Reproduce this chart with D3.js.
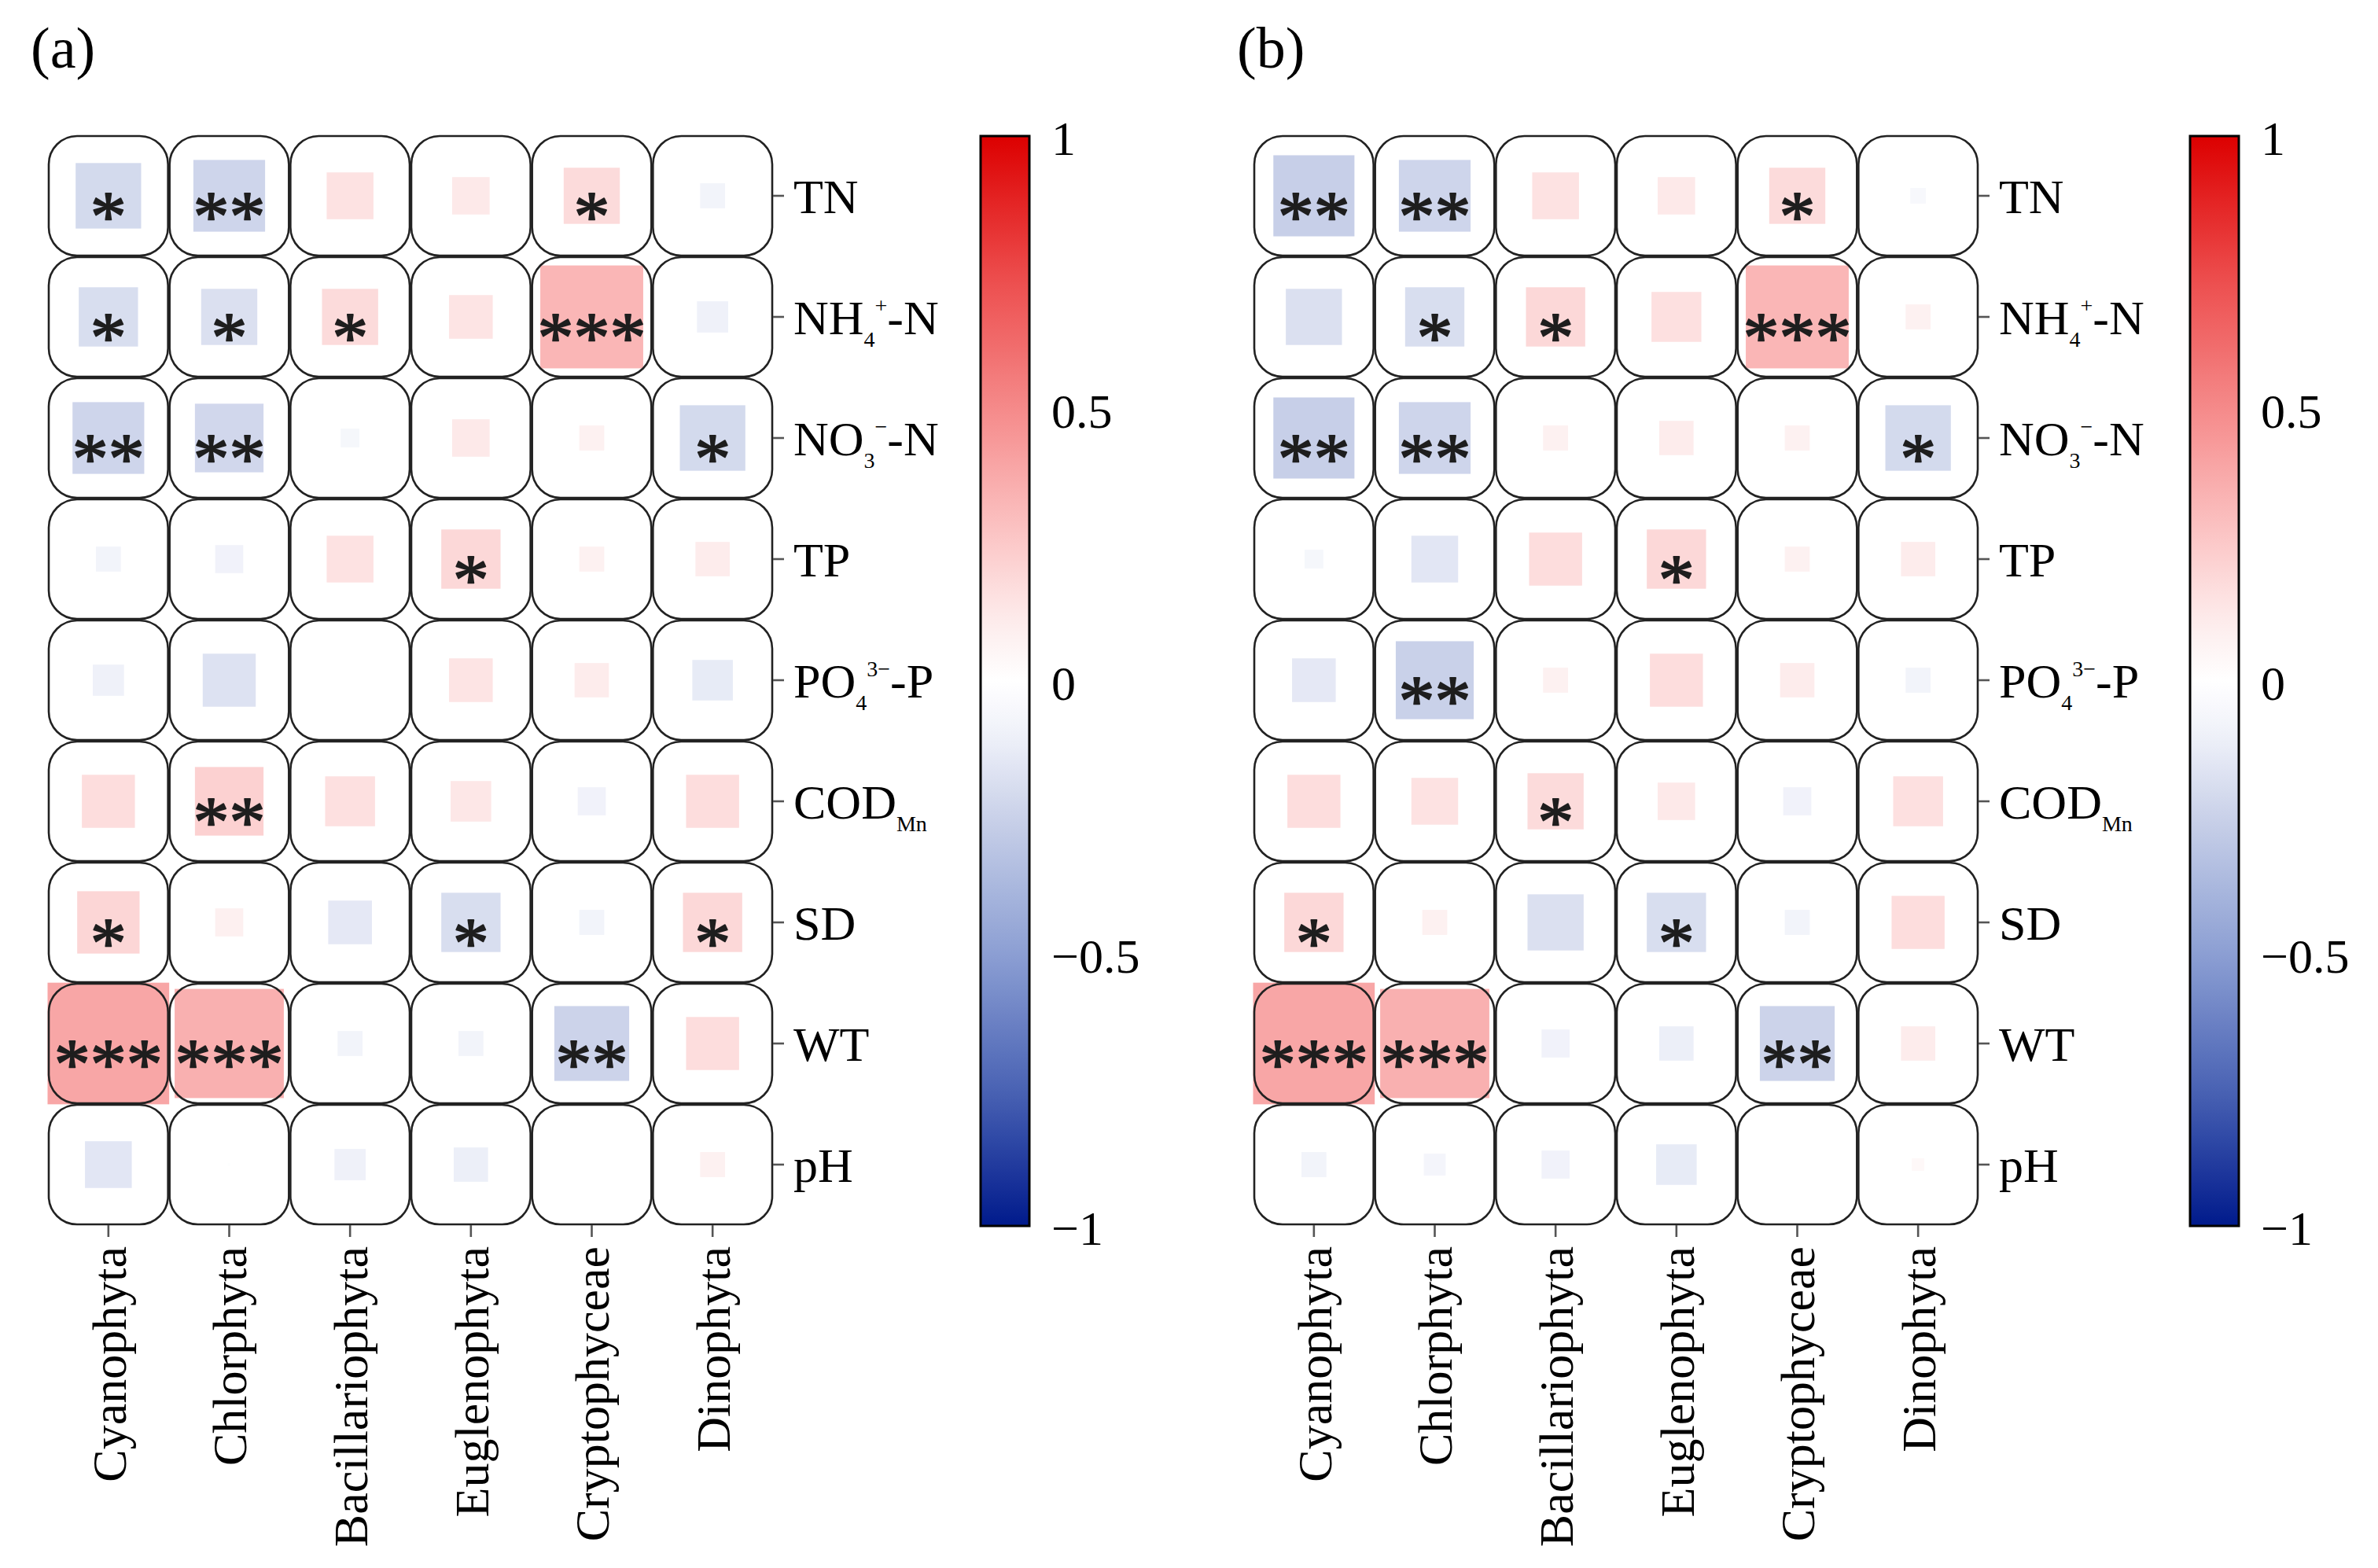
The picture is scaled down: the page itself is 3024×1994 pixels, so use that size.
<!DOCTYPE html>
<html>
<head>
<meta charset="utf-8">
<script src="https://cdn.jsdelivr.net/npm/d3@7"></script>
<style>
  html, body { margin: 0; padding: 0; background: #ffffff; }
  svg { display: block; }
  text { font-family: "Liberation Serif", "Times New Roman", serif; }
</style>
</head>
<body>
<svg id="chart" width="3024" height="1994"></svg>
<script>
// ---------------- data ----------------
const phyla = ["Cyanophyta", "Chlorphyta", "Bacillariophyta", "Euglenophyta", "Cryptophyceae", "Dinophyta"];
const factors = ["TN", "NH4+-N", "NO3--N", "TP", "PO43--P", "CODMn", "SD", "WT", "pH"];
// label pieces: [text, role] role: n = normal, sub = subscript, sup = superscript
const factorLabels = [
  [["TN", "n"]],
  [["NH", "n"], ["4", "sub"], ["+", "sup"], ["-N", "n"]],
  [["NO", "n"], ["3", "sub"], ["\u2212", "sup"], ["-N", "n"]],
  [["TP", "n"]],
  [["PO", "n"], ["4", "sub"], ["3\u2212", "sup"], ["-P", "n"]],
  [["COD", "n"], ["Mn", "sub"]],
  [["SD", "n"]],
  [["WT", "n"]],
  [["pH", "n"]]
];
const panelTitles = ["(a)", "(b)"];
const colorbarTicks = [-1, -0.5, 0, 0.5, 1];

// correlation coefficients, rows = factors, columns = phyla
const corrA = [
  [-0.21, -0.23,  0.15,  0.12,  0.18, -0.08],
  [-0.19, -0.18,  0.18,  0.14,  0.33, -0.10],
  [-0.23, -0.22, -0.06,  0.12,  0.08, -0.21],
  [-0.08, -0.09,  0.15,  0.19,  0.08,  0.11],
  [-0.10, -0.17,  0.00,  0.14,  0.11, -0.13],
  [ 0.17,  0.22,  0.16,  0.13, -0.09,  0.17],
  [ 0.20,  0.09, -0.14, -0.19, -0.08,  0.19],
  [ 0.39,  0.35, -0.08, -0.08, -0.24,  0.17],
  [-0.15, -0.01, -0.10, -0.11,  0.00,  0.08]
];
const sigA = [
  ["*", "**", "", "", "*", ""],
  ["*", "*", "*", "", "***", ""],
  ["**", "**", "", "", "", "*"],
  ["", "", "", "*", "", ""],
  ["", "", "", "", "", ""],
  ["", "**", "", "", "", ""],
  ["*", "", "", "*", "", "*"],
  ["***", "***", "", "", "**", ""],
  ["", "", "", "", "", ""]
];
const corrB = [
  [-0.26, -0.23,  0.15,  0.12,  0.18, -0.05],
  [-0.18, -0.19,  0.19,  0.16,  0.33,  0.08],
  [-0.26, -0.23,  0.08,  0.11,  0.08, -0.21],
  [-0.06, -0.15,  0.17,  0.19,  0.08,  0.11],
  [-0.14, -0.25,  0.08,  0.17,  0.11, -0.08],
  [ 0.17,  0.15,  0.18,  0.12, -0.09,  0.16],
  [ 0.19,  0.08, -0.18, -0.19, -0.08,  0.17],
  [ 0.39,  0.35, -0.09, -0.11, -0.24,  0.11],
  [-0.08, -0.07, -0.09, -0.13,  0.00,  0.04]
];
const sigB = [
  ["**", "**", "", "", "*", ""],
  ["", "*", "*", "", "***", ""],
  ["**", "**", "", "", "", "*"],
  ["", "", "", "*", "", ""],
  ["", "**", "", "", "", ""],
  ["", "", "*", "", "", ""],
  ["*", "", "", "*", "", ""],
  ["***", "***", "", "", "**", ""],
  ["", "", "", "", "", ""]
];

// colour map stops (value -> colour)
const colorDomain = [-1, -0.75, -0.5, -0.25, -0.1, 0, 0.1, 0.25, 0.5, 0.75, 1];
const colorRange  = ["#001a8c", "#4a63b4", "#8c9fd3", "#c9d1e9", "#eff1f9", "#ffffff",
                     "#fdeeee", "#fccaca", "#f58a8a", "#ec4a4a", "#dc0000"];

// ---------------- layout ----------------
const svg = d3.select("#chart");
const FONT = 62;
const gridTop = 172, gridBottom = 1558;
const panels = [
  { title: panelTitles[0], corr: corrA, sig: sigA, gridX: 61,   cbX: 1247, titleX: 39 },
  { title: panelTitles[1], corr: corrB, sig: sigB, gridX: 1594, cbX: 2785, titleX: 1573 }
];
const gridW = 922;
const cbW = 62;

const color = d3.scaleLinear().domain(colorDomain).range(colorRange).interpolate(d3.interpolateRgb).clamp(true);

// gradient for colour bars
const defs = svg.append("defs");
const grad = defs.append("linearGradient").attr("id", "cbgrad")
  .attr("x1", 0).attr("y1", 1).attr("x2", 0).attr("y2", 0);
d3.range(0, 1.0001, 0.02).forEach(t => {
  grad.append("stop").attr("offset", t).attr("stop-color", color(-1 + 2 * t));
});

const allAbs = corrA.flat().concat(corrB.flat()).map(Math.abs);

panels.forEach((p, pi) => {
  const g = svg.append("g");
  const x = d3.scaleBand().domain(phyla).range([p.gridX, p.gridX + gridW]);
  const y = d3.scaleBand().domain(factors).range([gridTop, gridBottom]);
  const size = d3.scaleLinear().domain([0, d3.max(allAbs)]).range([0, x.bandwidth() + 1]);

  const cells = [];
  factors.forEach((f, i) => phyla.forEach((ph, j) => {
    cells.push({ f, ph, r: p.corr[i][j], s: p.sig[i][j] });
  }));

  // white rounded cell backgrounds
  g.append("g").selectAll("rect").data(cells).join("rect")
    .attr("x", d => x(d.ph) + 1).attr("y", d => y(d.f) + 1)
    .attr("width", x.bandwidth() - 2).attr("height", y.bandwidth() - 2)
    .attr("rx", 36).attr("ry", 36)
    .attr("fill", "#ffffff");

  // coloured squares
  g.append("g").selectAll("rect").data(cells.filter(d => d.r !== 0)).join("rect")
    .attr("x", d => x(d.ph) + x.bandwidth() / 2 - size(Math.abs(d.r)) / 2)
    .attr("y", d => y(d.f) + y.bandwidth() / 2 - size(Math.abs(d.r)) / 2)
    .attr("width", d => size(Math.abs(d.r)))
    .attr("height", d => size(Math.abs(d.r)))
    .attr("fill", d => color(d.r));

  // rounded borders on top
  g.append("g").selectAll("rect").data(cells).join("rect")
    .attr("x", d => x(d.ph) + 1).attr("y", d => y(d.f) + 1)
    .attr("width", x.bandwidth() - 2).attr("height", y.bandwidth() - 2)
    .attr("rx", 36).attr("ry", 36)
    .attr("fill", "none").attr("stroke", "#222222").attr("stroke-width", 2.6);

  // significance stars
  g.append("g").selectAll("text").data(cells.filter(d => d.s)).join("text")
    .attr("x", d => x(d.ph) + x.bandwidth() / 2)
    .attr("y", d => y(d.f) + y.bandwidth() / 2 + 57)
    .attr("text-anchor", "middle")
    .attr("font-size", 92)
    .attr("fill", "#1e1e1e")
    .attr("stroke", "#1e1e1e").attr("stroke-width", 1.8).attr("stroke-linejoin", "round")
    .text(d => d.s);

  // right axis (factor labels)
  const ay = g.append("g").attr("transform", `translate(${p.gridX + gridW},0)`)
    .call(d3.axisRight(y).tickSize(14).tickPadding(12).tickFormat(""));
  ay.select(".domain").remove();
  ay.selectAll(".tick line").attr("stroke", "#555555").attr("stroke-width", 2.6);
  ay.selectAll(".tick text").each(function (d) {
    const t = d3.select(this);
    t.attr("font-size", FONT).attr("fill", "#000").attr("dy", "0.35em")
     .attr("font-family", '"Liberation Serif", "Times New Roman", serif');
    const parts = factorLabels[factors.indexOf(d)];
    let level = 0; // current baseline offset
    parts.forEach(([txt, role]) => {
      let target = role === "sub" ? 16 : role === "sup" ? -27 : 0;
      const ts = t.append("tspan").text(txt)
        .attr("font-size", role === "n" ? FONT : 28);
      if (target !== level) ts.attr("dy", target - level);
      level = target;
    });
  });

  // bottom axis (phyla labels)
  const ax = g.append("g").attr("transform", `translate(0,${gridBottom})`)
    .call(d3.axisBottom(x).tickSize(15).tickPadding(12));
  ax.select(".domain").remove();
  ax.selectAll(".tick line").attr("stroke", "#555555").attr("stroke-width", 2.6);
  ax.selectAll(".tick text")
    .attr("font-size", FONT).attr("fill", "#000")
    .attr("font-family", '"Liberation Serif", "Times New Roman", serif')
    .attr("transform", "rotate(-90)")
    .attr("text-anchor", "end")
    .attr("x", -27).attr("y", 0).attr("dy", "0.35em");

  // colour bar
  const cbScale = d3.scaleLinear().domain([-1, 1]).range([gridBottom + 1, gridTop + 1]);
  g.append("rect")
    .attr("x", p.cbX).attr("y", cbScale(1)).attr("width", cbW)
    .attr("height", cbScale(-1) - cbScale(1))
    .attr("fill", "url(#cbgrad)")
    .attr("stroke", "#000").attr("stroke-width", 3);
  const acb = g.append("g").attr("transform", `translate(${p.cbX + cbW},0)`)
    .call(d3.axisRight(cbScale).tickValues(colorbarTicks).tickSize(0).tickPadding(28)
      .tickFormat(d3.format("")));
  acb.select(".domain").remove();
  acb.selectAll(".tick text").attr("font-size", FONT).attr("fill", "#000")
    .attr("font-family", '"Liberation Serif", "Times New Roman", serif')
    .attr("dy", "0.38em");

  // panel title
  svg.append("text").attr("x", p.titleX).attr("y", 86)
    .attr("font-size", 74).attr("fill", "#000").text(p.title);
});
</script>
</body>
</html>
